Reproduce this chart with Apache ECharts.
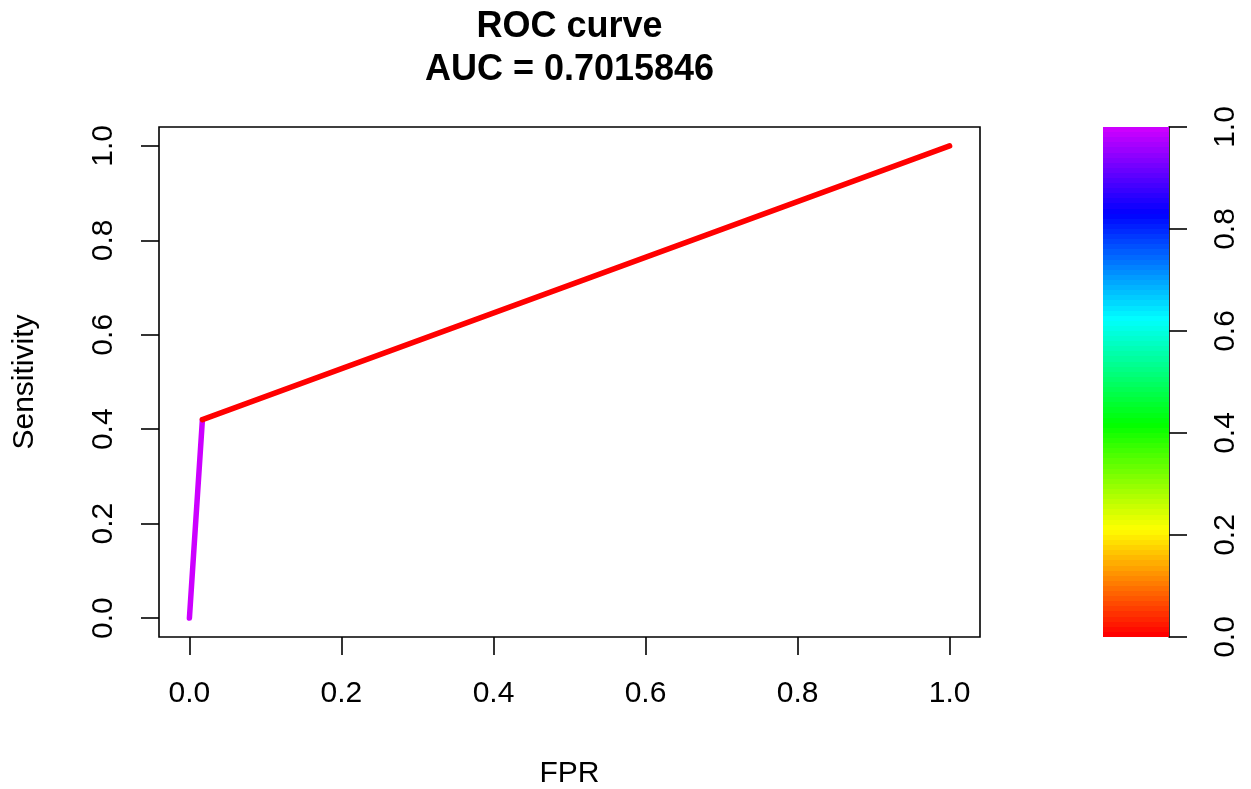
<!DOCTYPE html>
<html><head><meta charset="utf-8">
<script src="https://cdn.jsdelivr.net/npm/echarts@6/dist/echarts.min.js"></script>
<style>html,body{margin:0;padding:0;background:#fff}#c{width:1251px;height:789px}</style>
</head><body><div id="c"></div>
<script>
// ROC curve points (FPR, Sensitivity) and the threshold colour of each segment
const fpr = [0, 0.0171, 1];
const sensitivity = [0, 0.4203, 1];
const segmentThresholds = [1.0, 0.0];
const tickValues = [0, 0.2, 0.4, 0.6, 0.8, 1.0];
const titleLines = ['ROC curve', 'AUC = 0.7015846'];
const xName = 'FPR';
const yName = 'Sensitivity';

const FONT = "'Liberation Sans', Arial, Helvetica, sans-serif";

function hsv2rgb(h, s, v) {
  const i = Math.floor(h * 6), f = h * 6 - i;
  const p = v * (1 - s), q = v * (1 - f * s), t = v * (1 - (1 - f) * s);
  let r, g, b;
  switch (i % 6) {
    case 0: r = v; g = t; b = p; break;
    case 1: r = q; g = v; b = p; break;
    case 2: r = p; g = v; b = t; break;
    case 3: r = p; g = q; b = v; break;
    case 4: r = t; g = p; b = v; break;
    default: r = v; g = p; b = q;
  }
  const h2 = x => Math.round(x * 255).toString(16).padStart(2, '0');
  return '#' + h2(r) + h2(g) + h2(b);
}
// rainbow palette: threshold 0 -> red, threshold 1 -> purple (hue 0 .. 0.8)
const colorOf = th => hsv2rgb(th * 0.8, 1, 1);

// discrete colour-bar bands
const nBands = 100;
const stops = [];
for (let i = 0; i < nBands; i++) {
  const c = colorOf(i / (nBands - 1));
  stops.push({ offset: i / nBands, color: c });
  stops.push({ offset: (i + 1) / nBands, color: c });
}

const series = [];
for (let i = 0; i < fpr.length - 1; i++) {
  series.push({
    type: 'line', xAxisIndex: 0, yAxisIndex: 0,
    data: [[fpr[i], sensitivity[i]], [fpr[i + 1], sensitivity[i + 1]]],
    showSymbol: false, symbol: 'none', silent: true, animation: false,
    lineStyle: { color: colorOf(segmentThresholds[i]), width: 5.5, cap: 'round', join: 'round' },
    z: 3 + i
  });
}
series.push({
  type: 'bar', xAxisIndex: 1, yAxisIndex: 1, data: [1], barWidth: '100%',
  silent: true, animation: false,
  itemStyle: { color: new echarts.graphic.LinearGradient(0, 1, 0, 0, stops) }
});

const axisLabelStyle = { fontFamily: FONT, fontSize: 30, color: '#000' };
const tickStyle = { show: true, length: 18, lineStyle: { color: '#000', width: 1.6 } };

const chart = echarts.init(document.getElementById('c'), null, { renderer: 'canvas' });
chart.setOption({
  backgroundColor: '#fff',
  animation: false,
  grid: [
    { left: 159, right: 1251 - 980, top: 127, bottom: 789 - 637, show: true, borderColor: '#000', borderWidth: 1.6, backgroundColor: 'transparent' },
    { left: 1103, width: 66, top: 127, bottom: 789 - 637, show: false }
  ],
  xAxis: [
    { type: 'value', gridIndex: 0, min: -0.04, max: 1.04,
      axisLine: { show: false, onZero: false }, splitLine: { show: false },
      axisTick: Object.assign({ customValues: tickValues }, tickStyle),
      axisLabel: Object.assign({ customValues: tickValues, margin: 42, formatter: v => v.toFixed(1) }, axisLabelStyle) },
    { type: 'category', gridIndex: 1, data: ['c'], show: false }
  ],
  yAxis: [
    { type: 'value', gridIndex: 0, min: -0.04, max: 1.04,
      axisLine: { show: false, onZero: false }, splitLine: { show: false },
      axisTick: Object.assign({ customValues: tickValues }, tickStyle),
      axisLabel: Object.assign({ customValues: tickValues, margin: 40, rotate: 90, formatter: v => v.toFixed(1) }, axisLabelStyle) },
    { type: 'value', gridIndex: 1, position: 'right', min: 0, max: 1,
      axisLine: { show: true, onZero: false, lineStyle: { color: '#000', width: 1.6 } }, splitLine: { show: false },
      axisTick: Object.assign({ customValues: tickValues }, tickStyle),
      axisLabel: Object.assign({ customValues: tickValues, margin: 42, rotate: 90, formatter: v => v.toFixed(1) }, axisLabelStyle) }
  ],
  graphic: [
    { type: 'text', x: 569.5, y: 27, silent: true,
      style: { text: titleLines[0], textAlign: 'center', textVerticalAlign: 'middle', fontFamily: FONT, fontWeight: 'bold', fontSize: 36, fill: '#000' } },
    { type: 'text', x: 569.5, y: 70, silent: true,
      style: { text: titleLines[1], textAlign: 'center', textVerticalAlign: 'middle', fontFamily: FONT, fontWeight: 'bold', fontSize: 36, fill: '#000' } },
    { type: 'text', x: 569.5, y: 774, silent: true,
      style: { text: xName, textAlign: 'center', textVerticalAlign: 'middle', fontFamily: FONT, fontSize: 30, fill: '#000' } },
    { type: 'text', x: 25, y: 382, rotation: Math.PI / 2, silent: true,
      style: { text: yName, textAlign: 'center', textVerticalAlign: 'middle', fontFamily: FONT, fontSize: 30, fill: '#000' } }
  ],
  series: series
});
</script></body></html>
